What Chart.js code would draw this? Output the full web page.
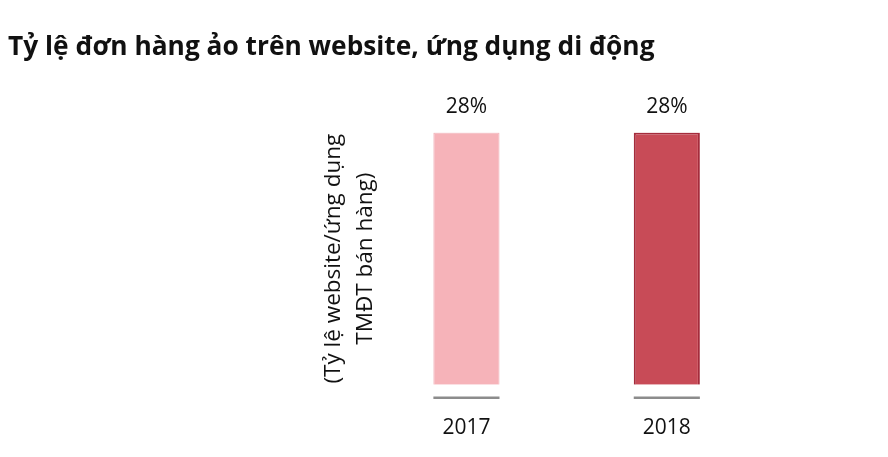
<!DOCTYPE html>
<html>
<head>
<meta charset="utf-8">
<script src="https://cdn.jsdelivr.net/npm/chart.js@4/dist/chart.umd.min.js"></script>
<style>
  html, body { margin: 0; padding: 0; background: #fff; }
  #wrap { width: 888px; height: 457px; }
</style>
</head>
<body>
<div id="wrap"><canvas id="myChart"></canvas></div>
<script>
var years = ['2017', '2018'];
var rates = [28, 28];
var barColors = ['#f6b3b9', '#c84b57'];
var barBorders = ['#efaab1', '#a52c3c'];
var titleText = 'Tỷ lệ đơn hàng ảo trên website, ứng dụng di động';
var yTitle = ['(Tỷ lệ website/ứng dụng', 'TMĐT bán hàng)'];

// value labels above bars + grey marker line under each bar
var barExtras = {
  id: 'barExtras',
  afterDatasetsDraw: function (chart) {
    var ctx = chart.ctx;
    var meta = chart.getDatasetMeta(0);
    ctx.save();
    meta.data.forEach(function (bar, i) {
      var half = bar.width / 2;
      ctx.strokeStyle = '#8c8c8c';
      ctx.lineWidth = 2.5;
      ctx.beginPath();
      ctx.moveTo(bar.x - half, bar.base + 13);
      ctx.lineTo(bar.x + half, bar.base + 13);
      ctx.stroke();

      ctx.fillStyle = '#111';
      ctx.font = '21px "Open Sans"';
      ctx.textAlign = 'center';
      ctx.textBaseline = 'alphabetic';
      ctx.fillText(rates[i] + '%', bar.x, bar.y - 20);
    });
    ctx.restore();
  }
};

var ctx = document.getElementById('myChart').getContext('2d');
var myChart = new Chart(ctx, {
  type: 'bar',
  data: {
    labels: years,
    datasets: [{
      data: rates,
      backgroundColor: barColors,
      borderColor: barBorders,
      borderWidth: [1, 2],
      barPercentage: 0.33,
      categoryPercentage: 1
    }]
  },
  plugins: [barExtras],
  options: {
    responsive: true,
    maintainAspectRatio: false,
    animation: false,
    layout: {
      padding: { left: 8, right: 121, top: 0, bottom: -7 }
    },
    plugins: {
      legend: { display: false },
      tooltip: { enabled: false },
      title: {
        display: true,
        text: titleText,
        align: 'start',
        color: '#111',
        font: { family: '"Open Sans"', size: 26.3, weight: 'bold', lineHeight: 1.2 },
        padding: { top: 32, bottom: 69 }
      }
    },
    scales: {
      x: {
        grid: { display: false },
        border: { display: false },
        ticks: {
          color: '#111',
          padding: 23,
          font: { family: '"Open Sans"', size: 21 }
        }
      },
      y: {
        min: 0,
        max: 28,
        grid: { display: false },
        border: { display: false },
        ticks: { display: false },
        title: {
          display: true,
          text: yTitle,
          color: '#111',
          font: { family: '"Open Sans"', size: 22.5, lineHeight: 1.45 },
          padding: { top: 309, bottom: -24 }
        }
      }
    }
  }
});
</script>
</body>
</html>
